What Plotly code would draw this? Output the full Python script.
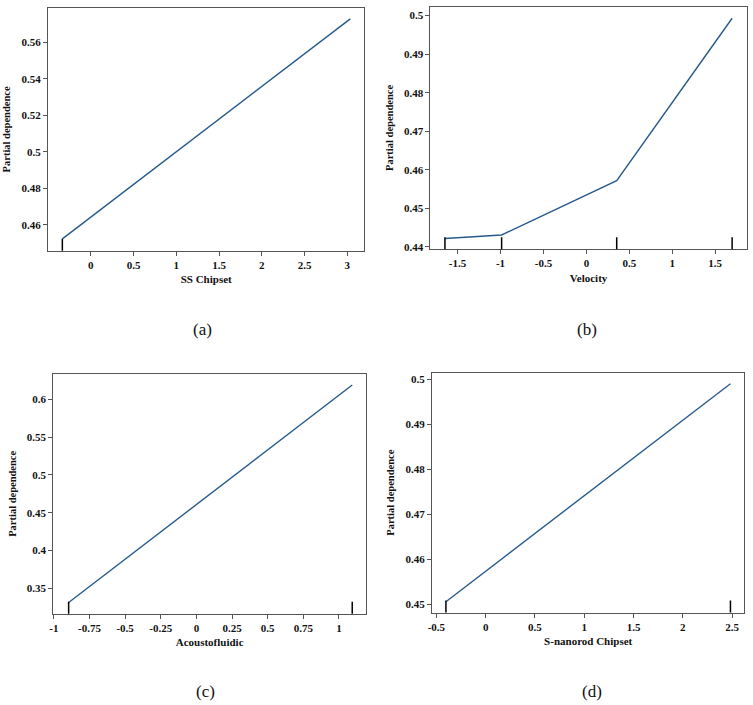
import plotly.graph_objects as go

# ---- data ----
a_x = [-0.333, 3.035]
a_y = [0.4524, 0.5729]
a_deciles = [-0.333]

b_x = [-1.647, -0.987, 0.353, 1.697]
b_y = [0.4422, 0.4431, 0.4572, 0.4993]
b_deciles = [-1.647, -0.987, 0.353, 1.697]

c_x = [-0.896, 1.093]
c_y = [0.3312, 0.6190]
c_deciles = [-0.896, 1.093]

d_x = [-0.403, 2.483]
d_y = [0.4506, 0.4990]
d_deciles = [-0.403, 2.483]

a_xticks = [0, 0.5, 1, 1.5, 2, 2.5, 3]
a_xtext = ["0", "0.5", "1", "1.5", "2", "2.5", "3"]
a_yticks = [0.46, 0.48, 0.50, 0.52, 0.54, 0.56]
a_ytext = ["0.46", "0.48", "0.5", "0.52", "0.54", "0.56"]

b_xticks = [-1.5, -1, -0.5, 0, 0.5, 1, 1.5]
b_xtext = ["-1.5", "-1", "-0.5", "0", "0.5", "1", "1.5"]
b_yticks = [0.44, 0.45, 0.46, 0.47, 0.48, 0.49, 0.50]
b_ytext = ["0.44", "0.45", "0.46", "0.47", "0.48", "0.49", "0.5"]

c_xticks = [-1, -0.75, -0.5, -0.25, 0, 0.25, 0.5, 0.75, 1]
c_xtext = ["-1", "-0.75", "-0.5", "-0.25", "0", "0.25", "0.5", "0.75", "1"]
c_yticks = [0.35, 0.40, 0.45, 0.50, 0.55, 0.60]
c_ytext = ["0.35", "0.4", "0.45", "0.5", "0.55", "0.6"]

d_xticks = [-0.5, 0, 0.5, 1, 1.5, 2, 2.5]
d_xtext = ["-0.5", "0", "0.5", "1", "1.5", "2", "2.5"]
d_yticks = [0.45, 0.46, 0.47, 0.48, 0.49, 0.50]
d_ytext = ["0.45", "0.46", "0.47", "0.48", "0.49", "0.5"]

features = ["SS Chipset", "Velocity", "Acoustofluidic", "S-nanorod Chipset"]
panel_labels = ["(a)", "(b)", "(c)", "(d)"]

# ---- layout geometry ----
W, H = 753, 705
LINE_COLOR = "#285a8c"
FONT = "Liberation Serif"

panels = [
    dict(x=a_x, y=a_y, dec=a_deciles, xr=[-0.50, 3.20], yr=[0.4458, 0.5789],
         xt=a_xticks, xtt=a_xtext, yt=a_yticks, ytt=a_ytext,
         px=(44.3, 362.3), py=(8, 252.3)),
    dict(x=b_x, y=b_y, dec=b_deciles, xr=[-1.816, 1.867], yr=[0.4394, 0.5023],
         xt=b_xticks, xtt=b_xtext, yt=b_yticks, ytt=b_ytext,
         px=(428.7, 746.7), py=(6.7, 250.7)),
    dict(x=c_x, y=c_y, dec=c_deciles, xr=[-1.004, 1.19], yr=[0.3163, 0.6338],
         xt=c_xticks, xtt=c_xtext, yt=c_yticks, ytt=c_ytext,
         px=(49.5, 364), py=(376, 617.3)),
    dict(x=d_x, y=d_y, dec=d_deciles, xr=[-0.544, 2.624], yr=[0.4482, 0.5014],
         xt=d_xticks, xtt=d_xtext, yt=d_yticks, ytt=d_ytext,
         px=(430.3, 744.3), py=(375, 616)),
]
label_pos = [(200, 331), (586, 331), (203, 695), (591, 695)]

fig = go.Figure()
shapes = []
annotations = []
layout = {}
for i, p in enumerate(panels):
    n = "" if i == 0 else str(i + 1)
    xa, ya = "x" + n, "y" + n
    fig.add_trace(go.Scatter(x=p["x"], y=p["y"], mode="lines",
                             line=dict(color=LINE_COLOR, width=1.4),
                             xaxis=xa, yaxis=ya, showlegend=False))
    for d in p["dec"]:
        shapes.append(dict(type="line", xref=xa, yref=ya + " domain",
                           x0=d, x1=d, y0=0, y1=0.05,
                           line=dict(color="black", width=1.5)))
    axis_common = dict(showline=True, linecolor="#555555", linewidth=1, mirror=True,
                       ticks="outside", ticklen=4, tickcolor="#555555",
                       showgrid=False, zeroline=False,
                       tickfont=dict(family=FONT, size=11, color="#111111"))
    layout["xaxis" + n] = dict(
        axis_common, domain=[p["px"][0] / W, p["px"][1] / W], range=p["xr"],
        tickvals=p["xt"], ticktext=["<b>%s</b>" % t for t in p["xtt"]], anchor=ya,
        title=dict(text="<b>%s</b>" % features[i], standoff=5,
                   font=dict(family=FONT, size=11, color="#111111")))
    layout["yaxis" + n] = dict(
        axis_common, domain=[1 - p["py"][1] / H, 1 - p["py"][0] / H], range=p["yr"],
        tickvals=p["yt"], ticktext=["<b>%s</b>" % t for t in p["ytt"]], anchor=xa,
        title=dict(text="<b>Partial dependence</b>", standoff=8,
                   font=dict(family=FONT, size=10.5, color="#111111")))
    lx, ly = label_pos[i]
    annotations.append(dict(text=panel_labels[i], xref="paper", yref="paper",
                            x=lx / W, y=1 - ly / H, showarrow=False,
                            xanchor="center", yanchor="middle",
                            font=dict(family=FONT, size=17, color="#111111")))

fig.update_layout(width=W, height=H, margin=dict(l=0, r=0, t=0, b=0),
                  paper_bgcolor="white", plot_bgcolor="white",
                  shapes=shapes, annotations=annotations, **layout)
fig.write_html("out.html")
